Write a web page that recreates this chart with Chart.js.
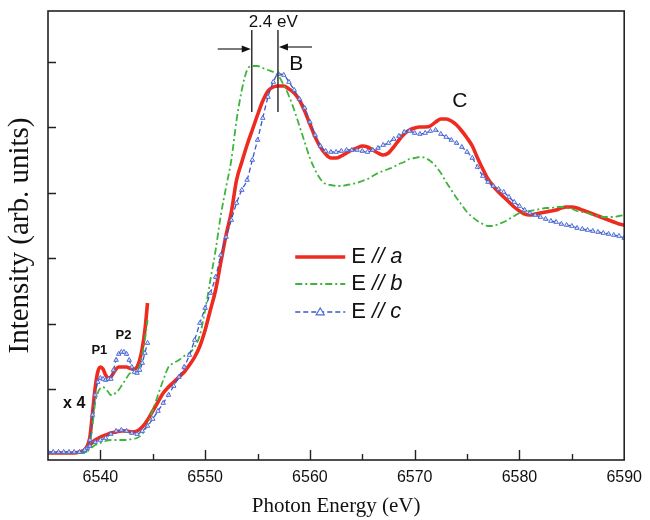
<!DOCTYPE html>
<html>
<head>
<meta charset="utf-8">
<title>XANES polarization</title>
<script src="https://cdn.jsdelivr.net/npm/chart.js@4.4.1/dist/chart.umd.min.js"></script>
<style>
  html, body { margin: 0; padding: 0; background: #fff; }
  #wrap { width: 650px; height: 520px; position: relative; }
</style>
</head>
<body>
<div id="wrap"><canvas id="xanes"></canvas></div>
<script>
// Photon energy grid for the main spectra (eV)
const energy = [
  6535, 6535.5, 6536, 6536.5, 6537, 6537.5, 6538, 6538.5, 6539, 6539.5,
  6540, 6540.5, 6541, 6541.5, 6542, 6542.5, 6543, 6543.5, 6544, 6544.5,
  6545, 6545.5, 6546, 6546.5, 6547, 6547.5, 6548, 6548.5, 6549, 6549.5,
  6550, 6550.5, 6551, 6551.5, 6552, 6552.5, 6553, 6553.5, 6554, 6554.5,
  6555, 6555.5, 6556, 6556.5, 6557, 6557.5, 6558, 6558.5, 6559, 6559.5,
  6560, 6560.5, 6561, 6561.5, 6562, 6562.5, 6563, 6563.5, 6564, 6564.5,
  6565, 6565.5, 6566, 6566.5, 6567, 6567.5, 6568, 6568.5, 6569, 6569.5,
  6570, 6570.5, 6571, 6571.5, 6572, 6572.5, 6573, 6573.5, 6574, 6574.5,
  6575, 6575.5, 6576, 6576.5, 6577, 6577.5, 6578, 6578.5, 6579, 6579.5,
  6580, 6580.5, 6581, 6581.5, 6582, 6582.5, 6583, 6583.5, 6584, 6584.5,
  6585, 6585.5, 6586, 6586.5, 6587, 6587.5, 6588, 6588.5, 6589, 6589.5,
  6590
];

// E // a
const intensityA = [
  0.07, 0.07, 0.07, 0.07, 0.07, 0.07, 0.08, 0.10, 0.15, 0.20,
  0.23, 0.25, 0.27, 0.28, 0.29, 0.29, 0.28, 0.29, 0.33, 0.40,
  0.49, 0.58, 0.67, 0.73, 0.78, 0.83, 0.88, 0.95, 1.03, 1.14,
  1.30, 1.50, 1.70, 1.98, 2.25, 2.48, 2.80, 2.98, 3.15, 3.30,
  3.45, 3.59, 3.69, 3.73, 3.74, 3.74, 3.71, 3.67, 3.60, 3.49,
  3.36, 3.23, 3.13, 3.06, 3.02, 3.02, 3.04, 3.07, 3.10, 3.12,
  3.14, 3.13, 3.10, 3.07, 3.05, 3.07, 3.13, 3.20, 3.26, 3.30,
  3.32, 3.33, 3.33, 3.34, 3.38, 3.41, 3.41, 3.39, 3.35, 3.29,
  3.22, 3.14, 3.02, 2.91, 2.81, 2.74, 2.68, 2.63, 2.58, 2.53,
  2.49, 2.46, 2.45, 2.46, 2.47, 2.48, 2.49, 2.50, 2.52, 2.53,
  2.53, 2.52, 2.50, 2.48, 2.46, 2.44, 2.42, 2.40, 2.38, 2.36,
  2.35
];

// E // b
const intensityB = [
  0.07, 0.07, 0.07, 0.07, 0.07, 0.07, 0.07, 0.07, 0.11, 0.15,
  0.17, 0.19, 0.20, 0.20, 0.20, 0.20, 0.21, 0.22, 0.26, 0.36,
  0.50, 0.65, 0.80, 0.93, 0.97, 1.00, 1.04, 1.07, 1.13, 1.25,
  1.50, 1.80, 2.10, 2.45, 2.73, 3.00, 3.40, 3.70, 3.90, 3.94,
  3.94, 3.92, 3.90, 3.88, 3.84, 3.75, 3.64, 3.50, 3.34, 3.18,
  3.02, 2.90, 2.81, 2.76, 2.75, 2.74, 2.74, 2.75, 2.76, 2.77,
  2.79, 2.81, 2.84, 2.87, 2.89, 2.91, 2.93, 2.96, 2.98, 3.01,
  3.02, 3.03, 3.02, 2.99, 2.94, 2.87, 2.78, 2.70, 2.62, 2.55,
  2.48, 2.43, 2.39, 2.36, 2.34, 2.34, 2.36, 2.38, 2.41, 2.44,
  2.47, 2.48, 2.49, 2.50, 2.51, 2.52, 2.52, 2.53, 2.53, 2.52,
  2.51, 2.49, 2.48, 2.47, 2.45, 2.44, 2.43, 2.43, 2.43, 2.44,
  2.45
];

// E // c
const intensityC = [
  0.08, 0.08, 0.08, 0.08, 0.08, 0.08, 0.08, 0.10, 0.14, 0.18,
  0.20, 0.22, 0.26, 0.29, 0.30, 0.29, 0.27, 0.26, 0.29, 0.34,
  0.41, 0.49, 0.57, 0.65, 0.74, 0.83, 0.93, 1.05, 1.20, 1.37,
  1.52, 1.67, 1.83, 2.05, 2.23, 2.40, 2.57, 2.70, 2.80, 3.00,
  3.20, 3.42, 3.63, 3.78, 3.86, 3.85, 3.78, 3.70, 3.61, 3.52,
  3.38, 3.25, 3.14, 3.09, 3.08, 3.08, 3.09, 3.10, 3.10, 3.10,
  3.09, 3.08, 3.10, 3.12, 3.15, 3.17, 3.21, 3.24, 3.28, 3.29,
  3.27, 3.26, 3.27, 3.29, 3.30, 3.26, 3.23, 3.20, 3.17, 3.13,
  3.08, 3.02, 2.93, 2.84, 2.78, 2.74, 2.71, 2.68, 2.63, 2.58,
  2.54, 2.50, 2.47, 2.45, 2.43, 2.41, 2.39, 2.38, 2.36, 2.35,
  2.34, 2.32, 2.31, 2.30, 2.29, 2.28, 2.27, 2.26, 2.25, 2.24,
  2.22
];

// Pre-edge region, magnified x4
const preEnergy = [
  6538.5, 6538.75, 6539, 6539.25, 6539.5, 6539.75, 6540, 6540.25, 6540.5,
  6540.75, 6541, 6541.25, 6541.5, 6541.75, 6542, 6542.25, 6542.5, 6542.75,
  6543, 6543.25, 6543.5, 6543.75, 6544, 6544.25, 6544.5
];
const preA = [
  0.10, 0.14, 0.23, 0.47, 0.72, 0.88, 0.93, 0.91, 0.85,
  0.82, 0.83, 0.87, 0.91, 0.93, 0.93, 0.93, 0.93, 0.92,
  0.91, 0.91, 0.93, 1.00, 1.12, 1.30, 1.57
];
const preB = [
  0.08, 0.11, 0.17, 0.35, 0.57, 0.67, 0.72, 0.73, 0.71,
  0.68, 0.65, 0.65, 0.68, 0.70, 0.74, 0.78, 0.82, 0.86,
  0.88, 0.89, 0.90, 0.94, 1.05, 1.20, 1.40
];
const preC = [
  0.09, 0.12, 0.20, 0.45, 0.65, 0.78, 0.82, 0.81, 0.80,
  0.81, 0.81, 0.90, 1.00, 1.06, 1.08, 1.08, 1.06, 1.00,
  0.93, 0.88, 0.87, 0.90, 0.97, 1.07, 1.17
];

// Axis ranges and the unlabeled intensity ticks
const xRange = [6535, 6590];
const yRange = [0, 4.49];
const yTickValues = [0.71, 1.365, 2.02, 2.675, 3.33, 3.985];

const seriesNames = ['E // a', 'E // b', 'E // c'];

const RED = '#ee2b1e';
const GREEN = '#3db53d';
const BLUE = '#3858c8';
const SANS = '"Liberation Sans", Arial, sans-serif';
const SERIF = '"Liberation Serif", "Times New Roman", serif';

const pts = (xs, ys) => xs.map((x, i) => ({ x: x, y: ys[i] }));

const styleA = { borderColor: RED, borderWidth: 3.6, pointRadius: 0, order: 2 };
const styleB = { borderColor: GREEN, borderWidth: 1.8, borderDash: [7, 3, 2, 3], pointRadius: 0, order: 1 };
const styleC = {
  borderColor: BLUE, borderWidth: 1.3, borderDash: [5, 3],
  pointStyle: 'triangle', pointRadius: 2.6, pointBorderWidth: 1,
  pointBorderColor: '#4a6ad8', pointBackgroundColor: 'rgba(255,255,255,0.7)', order: 0,
};

// inward tick marks + frame box
const frameTicks = {
  id: 'frameTicks',
  afterDatasetsDraw(chart) {
    const { ctx, chartArea: a, scales: { x, y } } = chart;
    ctx.save();
    ctx.strokeStyle = '#222';
    ctx.lineWidth = 1.6;
    ctx.strokeRect(a.left, a.top, a.right - a.left, a.bottom - a.top);
    ctx.lineWidth = 1.4;
    ctx.beginPath();
    x.ticks.forEach(t => {
      if (t.value <= xRange[0] || t.value >= xRange[1]) return;
      const px = Math.round(x.getPixelForValue(t.value)) + 0.5;
      const len = t.value % 10 === 0 ? 10 : 6;
      ctx.moveTo(px, a.bottom);
      ctx.lineTo(px, a.bottom - len);
    });
    y.ticks.forEach(t => {
      const py = Math.round(y.getPixelForValue(t.value)) + 0.5;
      ctx.moveTo(a.left, py);
      ctx.lineTo(a.left + 8, py);
    });
    ctx.stroke();
    ctx.restore();
  }
};

// text labels, the 2.4 eV marker and the legend
const annotations = {
  id: 'annotations',
  afterDraw(chart) {
    const { ctx, scales: { x, y } } = chart;
    const X = v => x.getPixelForValue(v);
    const Y = v => y.getPixelForValue(v);
    ctx.save();
    ctx.fillStyle = '#111';
    ctx.strokeStyle = '#333';
    ctx.textAlign = 'center';
    ctx.textBaseline = 'middle';

    // 2.4 eV shift between the two edge maxima
    ctx.font = '17px ' + SANS;
    ctx.fillText('2.4 eV', X(6556.5), Y(4.38));
    ctx.lineWidth = 1.5;
    ctx.beginPath();
    [6554.45, 6556.95].forEach(e => {
      ctx.moveTo(X(e), Y(4.30));
      ctx.lineTo(X(e), Y(3.48));
    });
    ctx.stroke();
    const arrow = (x0, x1, yy) => {
      const dir = Math.sign(x1 - x0);
      ctx.lineWidth = 1.3;
      ctx.beginPath();
      ctx.moveTo(x0, yy);
      ctx.lineTo(x1 - dir * 7, yy);
      ctx.stroke();
      ctx.beginPath();
      ctx.moveTo(x1, yy);
      ctx.lineTo(x1 - dir * 9, yy - 3.5);
      ctx.lineTo(x1 - dir * 9, yy + 3.5);
      ctx.closePath();
      ctx.fill();
    };
    arrow(X(6551.2), X(6554.45) - 1, Y(4.11));
    arrow(X(6560.2), X(6556.95) + 1, Y(4.13));

    ctx.font = '21px ' + SANS;
    ctx.fillText('B', X(6558.7), Y(3.96));
    ctx.fillText('C', X(6574.3), Y(3.59));

    ctx.font = 'bold 13px ' + SANS;
    ctx.fillText('P1', X(6539.9), Y(1.10));
    ctx.fillText('P2', X(6542.2), Y(1.25));
    ctx.font = 'bold 16px ' + SANS;
    ctx.fillText('x 4', X(6537.5), Y(0.56));

    // legend
    const lx = X(6558.6), lw = 50;
    const rows = [Y(2.03), Y(1.76), Y(1.48)];
    const styles = [styleA, styleB, styleC];
    styles.forEach((s, i) => {
      const yy = rows[i];
      ctx.save();
      ctx.strokeStyle = s.borderColor;
      ctx.lineWidth = s.borderWidth;
      ctx.setLineDash(s.borderDash || []);
      ctx.beginPath();
      ctx.moveTo(lx, yy);
      ctx.lineTo(lx + lw, yy);
      ctx.stroke();
      ctx.restore();
      if (s.pointStyle === 'triangle') {
        const cx = lx + lw / 2, r = 4;
        ctx.save();
        ctx.fillStyle = '#fff';
        ctx.strokeStyle = s.pointBorderColor;
        ctx.lineWidth = 1.2;
        ctx.beginPath();
        ctx.moveTo(cx, yy - r);
        ctx.lineTo(cx + r, yy + r * 0.7);
        ctx.lineTo(cx - r, yy + r * 0.7);
        ctx.closePath();
        ctx.fill();
        ctx.stroke();
        ctx.restore();
      }
      const [pre, slash, sym] = seriesNames[i].split(' ');
      ctx.textAlign = 'left';
      let tx = lx + lw + 6;
      ctx.font = '22px ' + SANS;
      ctx.fillText(pre + ' ', tx, yy);
      tx += ctx.measureText(pre + ' ').width;
      ctx.font = 'italic 22px ' + SANS;
      ctx.fillText(slash + ' ' + sym, tx, yy);
    });
    ctx.restore();
  }
};

new Chart(document.getElementById('xanes'), {
  type: 'line',
  data: {
    datasets: [
      Object.assign({ label: seriesNames[0], data: pts(energy, intensityA) }, styleA),
      Object.assign({ label: seriesNames[1], data: pts(energy, intensityB) }, styleB),
      Object.assign({ label: seriesNames[2], data: pts(energy, intensityC) }, styleC),
      Object.assign({ label: seriesNames[0] + ' x4', data: pts(preEnergy, preA) }, styleA),
      Object.assign({ label: seriesNames[1] + ' x4', data: pts(preEnergy, preB) }, styleB),
      Object.assign({ label: seriesNames[2] + ' x4', data: pts(preEnergy, preC) }, styleC),
    ],
  },
  options: {
    responsive: true,
    maintainAspectRatio: false,
    animation: false,
    layout: { padding: { top: 11, right: 19, left: 0, bottom: 0 } },
    elements: { line: { cubicInterpolationMode: 'monotone', fill: false } },
    plugins: { legend: { display: false }, tooltip: { enabled: false } },
    scales: {
      x: {
        type: 'linear',
        min: xRange[0],
        max: xRange[1],
        afterFit: s => { s.height = 60; },
        grid: { display: false, drawTicks: false },
        border: { display: false },
        ticks: {
          stepSize: 5,
          autoSkip: false,
          maxRotation: 0,
          padding: 8,
          color: '#111',
          font: { family: SANS, size: 16 },
          callback: v => (v % 10 === 0 && v > xRange[0]) ? String(v) : '',
        },
        title: {
          display: true,
          text: 'Photon Energy (eV)',
          color: '#111',
          font: { family: SERIF, size: 21 },
          padding: { top: 0, bottom: 1 },
        },
      },
      y: {
        type: 'linear',
        min: yRange[0],
        max: yRange[1],
        afterFit: s => { s.width = 48; },
        afterBuildTicks: s => { s.ticks = yTickValues.map(v => ({ value: v })); },
        grid: { display: false, drawTicks: false },
        border: { display: false },
        ticks: { display: false },
        title: {
          display: true,
          text: 'Intensity (arb. units)',
          color: '#111',
          font: { family: SERIF, size: 29 },
          padding: { top: 3, bottom: 0 },
        },
      },
    },
  },
  plugins: [frameTicks, annotations],
});
</script>
</body>
</html>
